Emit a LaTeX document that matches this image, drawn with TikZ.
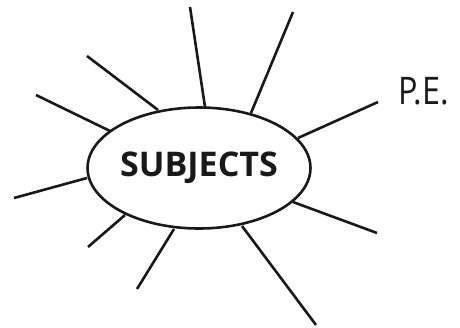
\documentclass[tikz,border=0pt]{standalone}
\usepackage{fontspec}
\setmainfont{Open Sans}
\usetikzlibrary{shapes.geometric}
\begin{document}
\begin{tikzpicture}[x=1pt,y=-1pt,
  spoke/.style={line width=2.6pt,draw=black!90},
  hub/.style={ellipse,draw=black!90,line width=2.6pt,minimum width=222pt,minimum height=121pt,inner sep=0pt,font=\fontsize{34}{34}\selectfont\bfseries,text=black!90}]
\useasboundingbox (0,0) rectangle (460,327);
\node[hub] (subj) at (199,168) {SUBJECTS};
\node[font=\fontsize{38}{38}\selectfont,text=black!90,inner sep=0pt,anchor=west] (pe) at (398,91) {\scalebox{0.85}[1]{P.E.}};
\coordinate (o1) at (190,7);   \coordinate (i1) at (205,107);
\coordinate (o2) at (293,12);  \coordinate (i2) at (251,113);
\coordinate (o3) at (378,102); \coordinate (i3) at (298,138);
\coordinate (o4) at (377,233); \coordinate (i4) at (293,202);
\coordinate (o5) at (316,325); \coordinate (i5) at (242,226);
\coordinate (o6) at (137,289); \coordinate (i6) at (174,229);
\coordinate (o7) at (88,247);  \coordinate (i7) at (125,215);
\coordinate (o8) at (14,198);  \coordinate (i8) at (87,178);
\coordinate (o9) at (36,95);   \coordinate (i9) at (110,131);
\coordinate (o10) at (87,56);  \coordinate (i10) at (158,110);
\foreach \k in {1,...,10} \draw[spoke] (o\k) -- (i\k);
\end{tikzpicture}
\end{document}
